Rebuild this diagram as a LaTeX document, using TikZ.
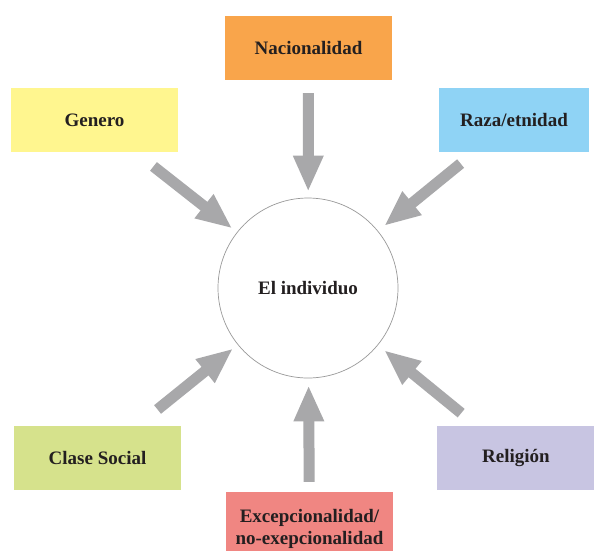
\documentclass[tikz,border=0pt]{standalone}
\usepackage{fontspec}
\setmainfont{Liberation Serif}
\usetikzlibrary{arrows.meta}
\definecolor{cOrange}{RGB}{249,165,75}
\definecolor{cYellow}{RGB}{255,246,143}
\definecolor{cBlue}{RGB}{143,211,245}
\definecolor{cGreen}{RGB}{214,226,140}
\definecolor{cLav}{RGB}{200,197,226}
\definecolor{cSalmon}{RGB}{240,134,130}
\definecolor{cArrow}{RGB}{168,168,170}
\definecolor{cText}{RGB}{35,31,32}
\tikzset{
  lblfont/.style={font=\fontsize{19}{22}\selectfont\bfseries, text=cText},
  factor/.style={minimum width=167pt, minimum height=64pt, inner sep=0pt,
    lblfont, align=center},
  bigarrow/.style={draw=cArrow, line width=11pt,
    -{Triangle[width=28pt,length=36pt]}, shorten <=#1},
  bigarrow/.default=23pt
}
\begin{document}
\begin{tikzpicture}[x=1pt,y=-1pt]
\useasboundingbox (0,0) rectangle (594,550);
\fill[white] (0,0) rectangle (594,550);
\node[circle, draw=black!40, line width=0.7pt, minimum size=180pt, inner sep=0pt,
  lblfont] (ind) at (308,288) {El individuo};
\node[factor, fill=cOrange] (nac) at (308.5,48) {Nacionalidad};
\node[factor, fill=cYellow] (gen) at (94.5,120) {Genero};
\node[factor, fill=cBlue, minimum width=150pt] (raza) at (514,120) {Raza/etnidad};
\node[factor, fill=cGreen] (clase) at (97.5,458) {Clase Social};
\node[factor, fill=cLav, minimum width=158pt] (rel) at (516,458) {Religión};
\node[factor, fill=cSalmon, minimum height=74pt] (exc) at (309.5,529) {Excepcionalidad/\\no-exepcionalidad};
\draw[bigarrow=13pt, shorten >=6pt] (nac) -- (ind);
\draw[bigarrow=10pt, shorten >=7pt] (exc) -- (ind);
\draw[bigarrow, shorten >=6pt] (gen) -- (ind);
\draw[bigarrow=18pt, shorten >=8pt] (raza) -- (ind);
\draw[bigarrow=26pt, shorten >=6pt] (clase) -- (ind);
\draw[bigarrow=20pt, shorten >=8pt] (rel) -- (ind);
\end{tikzpicture}
\end{document}
